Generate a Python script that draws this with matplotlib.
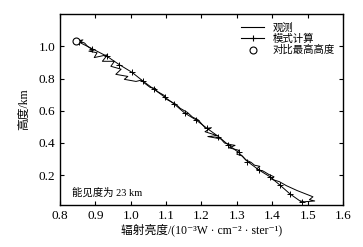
import numpy as np
import matplotlib
matplotlib.use("Agg")
import matplotlib.pyplot as plt
from matplotlib.lines import Line2D

plt.rcParams['font.family'] = ['Liberation Serif', 'DejaVu Serif', 'Noto Sans CJK SC']

# model curve (with + markers)
model_x = [0.855, 0.892, 0.933, 0.968, 1.004, 1.036, 1.065, 1.096, 1.123, 1.153, 1.184,
           1.215, 1.248, 1.276, 1.305, 1.330, 1.362, 1.393, 1.421, 1.450, 1.483]
model_y = [1.025, 0.984, 0.938, 0.886, 0.838, 0.782, 0.735, 0.685, 0.642, 0.585, 0.544,
           0.492, 0.440, 0.388, 0.341, 0.285, 0.233, 0.191, 0.140, 0.084, 0.033]

# observed curve (jagged)
obs_x = [0.845, 0.865, 0.858, 0.870, 0.878, 0.895, 0.882, 0.905, 0.897, 0.935, 0.920,
         0.954, 0.944, 0.973, 0.958, 0.992, 0.982, 1.015, 1.030, 1.040, 1.055, 1.070,
         1.075, 1.095, 1.098, 1.115, 1.128, 1.140, 1.160, 1.175, 1.190, 1.200, 1.212,
         1.228, 1.210, 1.245, 1.218, 1.255, 1.265, 1.282, 1.295, 1.278, 1.305, 1.300,
         1.315, 1.325, 1.340, 1.350, 1.365, 1.355, 1.375, 1.390, 1.405, 1.398, 1.420,
         1.440, 1.470, 1.515, 1.505, 1.520, 1.490, 1.480]
obs_y = [1.031, 1.040, 1.030, 1.020, 1.000, 0.975, 0.970, 0.960, 0.930, 0.948, 0.907,
         0.907, 0.876, 0.858, 0.826, 0.813, 0.795, 0.782, 0.790, 0.770, 0.745, 0.738,
         0.720, 0.695, 0.675, 0.655, 0.640, 0.615, 0.590, 0.560, 0.545, 0.520, 0.490,
         0.495, 0.470, 0.445, 0.440, 0.425, 0.400, 0.390, 0.385, 0.370, 0.355, 0.330,
         0.320, 0.295, 0.280, 0.262, 0.255, 0.238, 0.225, 0.205, 0.190, 0.175, 0.160,
         0.135, 0.105, 0.066, 0.048, 0.040, 0.035, 0.040]

top_x = [0.845]
top_y = [1.031]

xticks = [0.8, 0.9, 1.0, 1.1, 1.2, 1.3, 1.4, 1.5, 1.6]
yticks = [0.2, 0.4, 0.6, 0.8, 1.0]

fig = plt.figure(figsize=(3.63, 2.47), dpi=100)
ax = fig.add_axes([0.165, 0.17, 0.78, 0.773])

ax.plot(obs_x, obs_y, color='k', lw=0.7)
ax.plot(model_x, model_y, color='k', lw=0.7, marker='+', ms=4.5, mew=0.7)
ax.plot(top_x, top_y, 'o', mfc='white', mec='k', ms=5, mew=0.8)

ax.set_xlim(0.8, 1.6)
ax.set_ylim(0.015, 1.2)
ax.set_xticks(xticks)
ax.set_yticks(yticks)
ax.set_xticklabels(['%.1f' % v for v in xticks])
ax.set_yticklabels(['%.1f' % v for v in yticks])
ax.tick_params(direction='in', top=True, right=True, length=3, width=0.8, labelsize=9.5)
for s in ax.spines.values():
    s.set_linewidth(1.0)

ax.set_xlabel('辐射亮度/(10⁻³W · cm⁻² · ster⁻¹)', fontsize=8.5, labelpad=1)
ax.set_ylabel('高度/km', fontsize=8.5, labelpad=6)
ax.text(0.042, 0.047, '能见度为 23 km', transform=ax.transAxes, fontsize=7.5)

handles = [Line2D([], [], color='k', lw=0.8),
           Line2D([], [], color='k', lw=0.8, marker='+', ms=5, mew=0.8),
           Line2D([], [], ls='none', marker='o', mfc='white', mec='k', ms=5, mew=0.8)]
ax.legend(handles, ['观测', '模式计算', '对比最高高度'], loc='upper right', frameon=False,
          fontsize=7.5, handlelength=2.2, labelspacing=0.1, handletextpad=0.8,
          borderaxespad=0.4)

fig.savefig('out.png', dpi=100)
